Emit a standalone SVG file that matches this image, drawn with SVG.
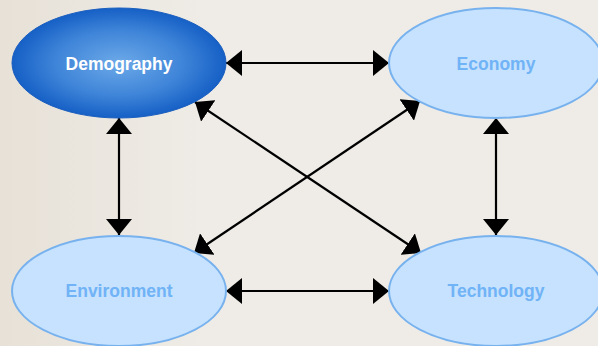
<svg xmlns="http://www.w3.org/2000/svg" width="598" height="346" viewBox="0 0 598 346">
<style>
.lbl{font-family:"Liberation Sans",Arial,sans-serif;font-weight:bold;font-size:17.5px;text-anchor:middle}
.light{fill:#C6E2FE;stroke:#78B2EE;stroke-width:2}
.lt{fill:#70B3F6}
.conn line{stroke:#000;stroke-width:2.2;marker-start:url(#ah);marker-end:url(#ah)}
</style>
<defs>
<linearGradient id="bg" x1="0" y1="0" x2="1" y2="0">
<stop offset="0" stop-color="#E7E1D7"/>
<stop offset="0.35" stop-color="#EFECE7"/>
<stop offset="1" stop-color="#EFECE7"/>
</linearGradient>
<radialGradient id="demo" cx="0.5" cy="0.5" r="0.5">
<stop offset="0" stop-color="#6CA9E8"/>
<stop offset="0.6" stop-color="#3E84D8"/>
<stop offset="1" stop-color="#1660C6"/>
</radialGradient>
<marker id="ah" markerUnits="userSpaceOnUse" markerWidth="17" markerHeight="26" refX="16" refY="13" orient="auto-start-reverse">
<path d="M0,0 L16,13 L0,26 Z" fill="#000"/>
</marker>
</defs>
<rect width="598" height="346" fill="url(#bg)"/>
<g id="connectors" class="conn">
<line x1="226" y1="63" x2="389" y2="63"/>
<line x1="226" y1="291" x2="389" y2="291"/>
<line x1="119" y1="118" x2="119" y2="235"/>
<line x1="496" y1="118" x2="496" y2="235"/>
<line x1="195" y1="102" x2="421" y2="253"/>
<line x1="420" y1="101" x2="194" y2="253"/>
</g>
<g id="demography">
<ellipse cx="119" cy="63" rx="107" ry="55" fill="url(#demo)" stroke="#1A5EBE" stroke-width="1"/>
<text class="lbl" x="119" y="70" fill="#FFFFFF">Demography</text>
</g>
<g id="economy">
<ellipse class="light" cx="496" cy="63" rx="107" ry="55"/>
<text class="lbl lt" x="496" y="70">Economy</text>
</g>
<g id="environment">
<ellipse class="light" cx="119" cy="291" rx="107" ry="55"/>
<text class="lbl lt" x="119" y="297">Environment</text>
</g>
<g id="technology">
<ellipse class="light" cx="496" cy="291" rx="107" ry="55"/>
<text class="lbl lt" x="496" y="297">Technology</text>
</g>
</svg>
